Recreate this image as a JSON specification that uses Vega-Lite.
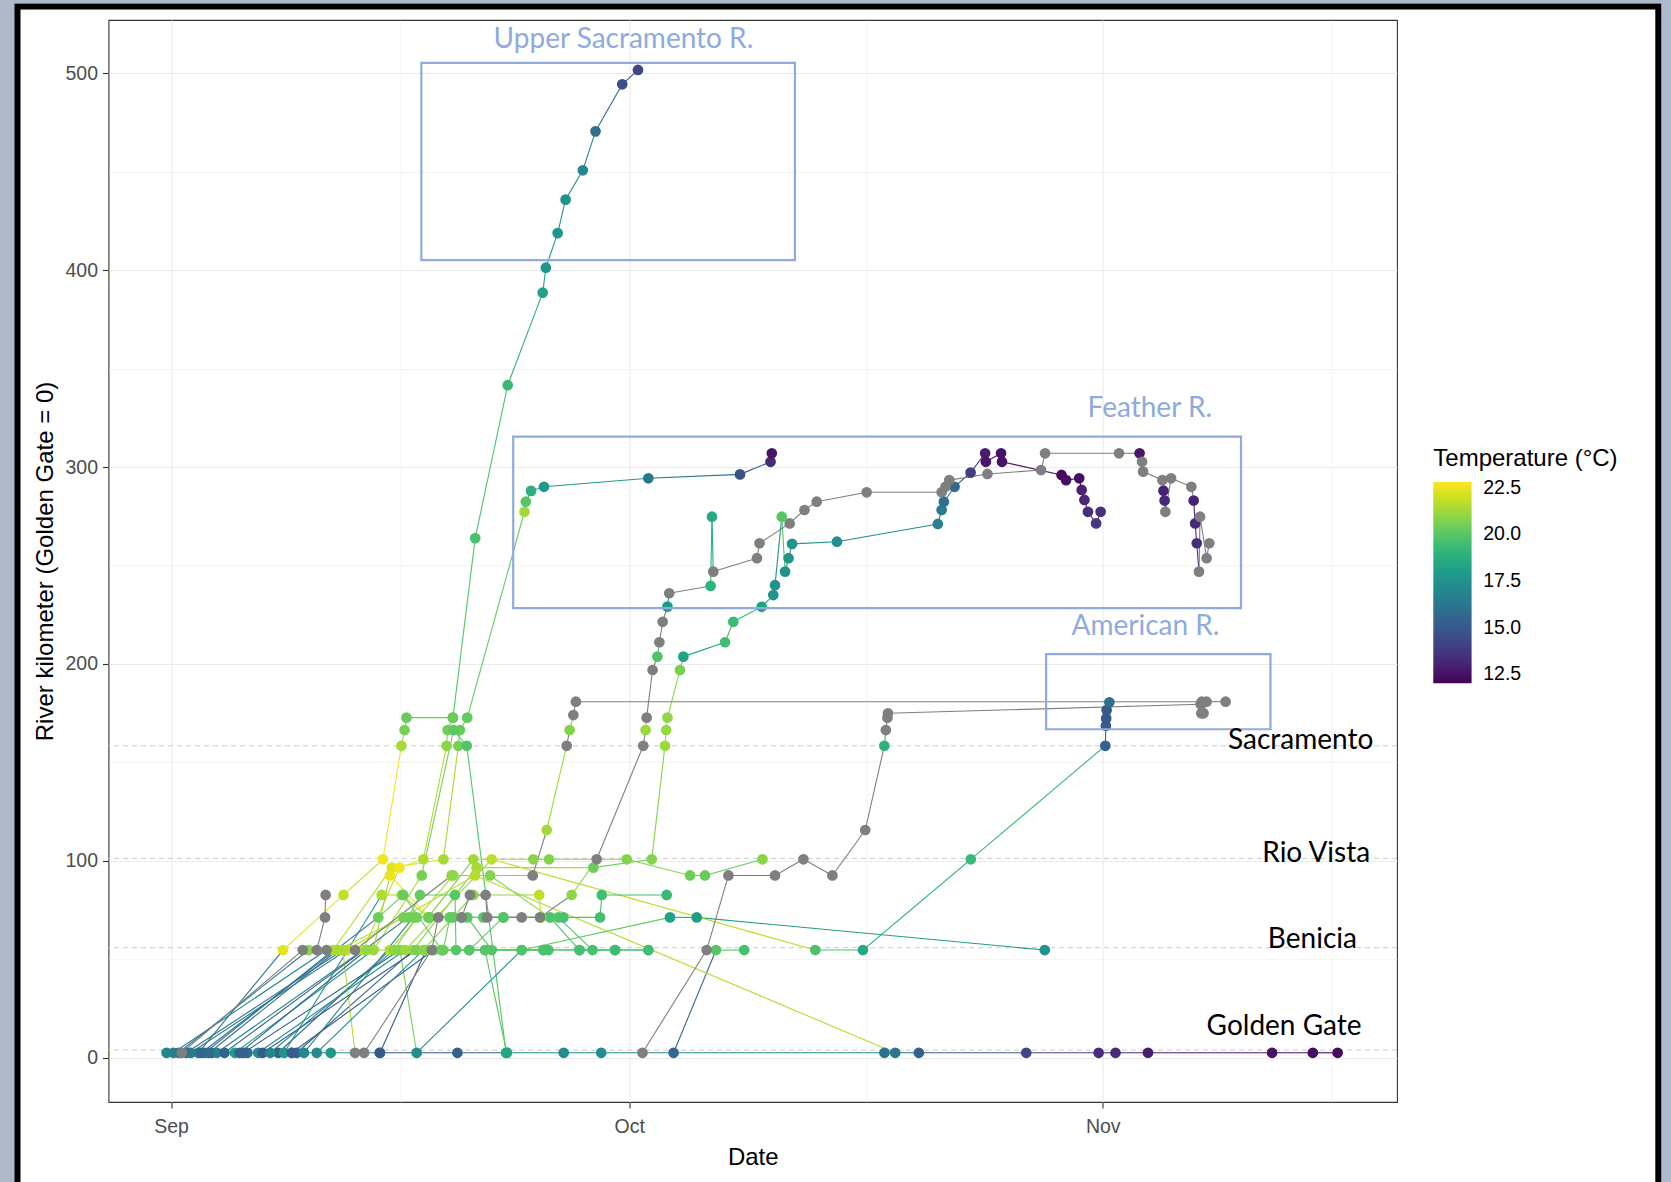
{
  "$schema": "https://vega.github.io/schema/vega-lite/v6.json",
  "autosize": {"type": "none"},
  "width": 1288.5,
  "height": 1082,
  "padding": {"left": 108.5, "top": 20, "right": 274, "bottom": 80},
  "background": "#ffffff",
  "config": {
    "view": {"stroke": "#333333", "strokeWidth": 1.1},
    "legend": {"padding": 0}
  },
  "resolve": {"legend": {"color": "independent"}},
  "data": {
    "format": {"parse": {"t": "date"}},
    "values": [
      {"fish":"f01","t":"2019-08-31T17:00","rkm":2.4,"temp":17.0},
      {"fish":"f01","t":"2019-09-03T16:00","rkm":2.4,"temp":16.0},
      {"fish":"f01","t":"2019-09-06T00:00","rkm":2.4,"temp":15.8},
      {"fish":"f01","t":"2019-09-08T22:00","rkm":2.4,"temp":15.2},
      {"fish":"f01","t":"2019-09-11T11:00","rkm":2.4,"temp":17.8},
      {"fish":"f01","t":"2019-09-14T16:00","rkm":2.4,"temp":15.0},
      {"fish":"f01","t":"2019-09-19T18:00","rkm":2.4,"temp":15.4},
      {"fish":"f01","t":"2019-09-22T23:30","rkm":2.4,"temp":17.3},
      {"fish":"f01","t":"2019-09-26T17:00","rkm":2.4,"temp":17.2},
      {"fish":"f01","t":"2019-09-29T04:00","rkm":2.4,"temp":17.3},
      {"fish":"f01","t":"2019-10-17T17:00","rkm":2.4,"temp":16.0},
      {"fish":"f01","t":"2019-10-19T23:00","rkm":2.4,"temp":15.3},
      {"fish":"f01","t":"2019-10-26T23:45","rkm":2.4,"temp":14.2},
      {"fish":"f01","t":"2019-10-31T17:30","rkm":2.4,"temp":13.4},
      {"fish":"f01","t":"2019-11-01T20:00","rkm":2.4,"temp":13.3},
      {"fish":"f01","t":"2019-11-03T23:00","rkm":2.4,"temp":12.9},
      {"fish":"f01","t":"2019-11-12T02:00","rkm":2.4,"temp":12.5},
      {"fish":"f01","t":"2019-11-14T18:00","rkm":2.4,"temp":12.4},
      {"fish":"f01","t":"2019-11-16T09:00","rkm":2.4,"temp":12.3},

      {"fish":"f02","t":"2019-09-01T17:00","rkm":2.4,"temp":null},
      {"fish":"f02","t":"2019-09-09T15:00","rkm":54.6,"temp":null},
      {"fish":"f02","t":"2019-09-10T13:00","rkm":54.6,"temp":null},
      {"fish":"f02","t":"2019-09-11T02:00","rkm":71.2,"temp":null},
      {"fish":"f02","t":"2019-09-11T03:00","rkm":82.6,"temp":null},

      {"fish":"f03","t":"2019-09-02T19:00","rkm":2.4,"temp":16.3},
      {"fish":"f03","t":"2019-09-08T08:00","rkm":54.6,"temp":22.4},
      {"fish":"f03","t":"2019-09-12T07:00","rkm":82.6,"temp":21.8},
      {"fish":"f03","t":"2019-09-14T21:00","rkm":100.7,"temp":22.6},
      {"fish":"f03","t":"2019-09-16T02:00","rkm":158.4,"temp":21.4},
      {"fish":"f03","t":"2019-09-16T07:00","rkm":166.4,"temp":20.6},
      {"fish":"f03","t":"2019-09-16T10:00","rkm":172.7,"temp":20.3},
      {"fish":"f03","t":"2019-09-19T11:00","rkm":172.7,"temp":19.9},
      {"fish":"f03","t":"2019-09-20T22:00","rkm":263.9,"temp":19.7},
      {"fish":"f03","t":"2019-09-23T01:00","rkm":341.6,"temp":19.3},
      {"fish":"f03","t":"2019-09-25T08:00","rkm":388.6,"temp":18.2},
      {"fish":"f03","t":"2019-09-25T13:00","rkm":401.3,"temp":17.7},
      {"fish":"f03","t":"2019-09-26T07:30","rkm":418.9,"temp":17.6},
      {"fish":"f03","t":"2019-09-26T20:00","rkm":435.9,"temp":17.5},
      {"fish":"f03","t":"2019-09-27T23:00","rkm":450.8,"temp":17.0},
      {"fish":"f03","t":"2019-09-28T19:00","rkm":470.6,"temp":15.9},
      {"fish":"f03","t":"2019-09-30T13:00","rkm":494.5,"temp":14.6},
      {"fish":"f03","t":"2019-10-01T13:40","rkm":501.8,"temp":14.3},

      {"fish":"f04","t":"2019-09-03T05:30","rkm":2.4,"temp":16.6},
      {"fish":"f04","t":"2019-09-11T15:00","rkm":54.6,"temp":21.6},
      {"fish":"f04","t":"2019-09-15T11:00","rkm":96.5,"temp":22.3},
      {"fish":"f04","t":"2019-09-18T20:00","rkm":100.7,"temp":21.4},
      {"fish":"f04","t":"2019-09-19T19:30","rkm":158.4,"temp":20.6},
      {"fish":"f04","t":"2019-09-19T22:00","rkm":166.4,"temp":20.3},
      {"fish":"f04","t":"2019-09-20T09:30","rkm":172.7,"temp":20.2},
      {"fish":"f04","t":"2019-09-24T03:20","rkm":277.3,"temp":21.3},
      {"fish":"f04","t":"2019-09-24T05:30","rkm":282.4,"temp":20.0},
      {"fish":"f04","t":"2019-09-24T13:40","rkm":287.9,"temp":18.8},
      {"fish":"f04","t":"2019-09-25T10:00","rkm":290.0,"temp":17.8},
      {"fish":"f04","t":"2019-10-02T06:00","rkm":294.3,"temp":16.3},
      {"fish":"f04","t":"2019-10-08T06:00","rkm":296.3,"temp":14.8},
      {"fish":"f04","t":"2019-10-10T06:00","rkm":302.7,"temp":13.3},
      {"fish":"f04","t":"2019-10-10T08:00","rkm":307.0,"temp":12.6},

      {"fish":"f05","t":"2019-09-04T00:00","rkm":2.4,"temp":16.8},
      {"fish":"f05","t":"2019-09-13T14:00","rkm":54.6,"temp":21.8},
      {"fish":"f05","t":"2019-09-15T23:00","rkm":96.5,"temp":22.6},
      {"fish":"f05","t":"2019-09-17T12:30","rkm":100.7,"temp":21.5},
      {"fish":"f05","t":"2019-09-19T01:00","rkm":158.4,"temp":20.9},
      {"fish":"f05","t":"2019-09-19T02:30","rkm":166.4,"temp":20.5},
      {"fish":"f05","t":"2019-09-19T11:00","rkm":172.7,"temp":20.4},

      {"fish":"f06","t":"2019-09-05T04:30","rkm":2.4,"temp":17.9},
      {"fish":"f06","t":"2019-09-14T06:00","rkm":54.6,"temp":21.3},
      {"fish":"f06","t":"2019-09-17T10:00","rkm":92.5,"temp":20.6},
      {"fish":"f06","t":"2019-09-19T12:00","rkm":166.4,"temp":20.1},
      {"fish":"f06","t":"2019-09-20T08:40","rkm":158.4,"temp":19.9},
      {"fish":"f06","t":"2019-09-22T22:30","rkm":2.4,"temp":18.6},

      {"fish":"f07","t":"2019-09-08T00:30","rkm":2.4,"temp":15.3},
      {"fish":"f07","t":"2019-09-15T08:00","rkm":54.6,"temp":21.6},
      {"fish":"f07","t":"2019-09-19T11:30","rkm":92.5,"temp":21.0},
      {"fish":"f07","t":"2019-09-24T16:20","rkm":92.5,"temp":null},
      {"fish":"f07","t":"2019-09-25T14:20","rkm":115.6,"temp":21.3},
      {"fish":"f07","t":"2019-09-26T21:40","rkm":158.4,"temp":null},
      {"fish":"f07","t":"2019-09-27T02:20","rkm":166.4,"temp":20.8},
      {"fish":"f07","t":"2019-09-27T08:10","rkm":174.0,"temp":null},
      {"fish":"f07","t":"2019-09-27T12:10","rkm":180.8,"temp":null},
      {"fish":"f07","t":"2019-11-07T11:30","rkm":180.8,"temp":null},
      {"fish":"f07","t":"2019-11-07T14:20","rkm":174.9,"temp":null},
      {"fish":"f07","t":"2019-11-07T19:10","rkm":180.8,"temp":null},
      {"fish":"f07","t":"2019-11-09T01:00","rkm":180.8,"temp":null},

      {"fish":"f08","t":"2019-09-13T15:20","rkm":2.4,"temp":null},
      {"fish":"f08","t":"2019-09-18T01:40","rkm":54.6,"temp":null},
      {"fish":"f08","t":"2019-09-18T12:00","rkm":71.2,"temp":null},
      {"fish":"f08","t":"2019-09-20T00:40","rkm":71.2,"temp":null},
      {"fish":"f08","t":"2019-09-20T13:40","rkm":82.6,"temp":null},
      {"fish":"f08","t":"2019-09-21T14:20","rkm":82.6,"temp":null},
      {"fish":"f08","t":"2019-09-21T16:50","rkm":71.2,"temp":null},
      {"fish":"f08","t":"2019-09-23T23:00","rkm":71.2,"temp":null},
      {"fish":"f08","t":"2019-09-25T03:50","rkm":71.2,"temp":null},
      {"fish":"f08","t":"2019-09-27T05:30","rkm":82.6,"temp":21.0},
      {"fish":"f08","t":"2019-09-28T20:50","rkm":100.7,"temp":null},
      {"fish":"f08","t":"2019-10-01T22:00","rkm":158.4,"temp":null},
      {"fish":"f08","t":"2019-10-02T01:40","rkm":166.4,"temp":21.2},
      {"fish":"f08","t":"2019-10-02T03:20","rkm":172.7,"temp":null},
      {"fish":"f08","t":"2019-10-02T12:40","rkm":196.9,"temp":null},
      {"fish":"f08","t":"2019-10-02T20:10","rkm":203.7,"temp":19.8},
      {"fish":"f08","t":"2019-10-02T23:20","rkm":211.0,"temp":null},
      {"fish":"f08","t":"2019-10-03T04:30","rkm":221.4,"temp":null},
      {"fish":"f08","t":"2019-10-03T12:00","rkm":229.1,"temp":17.8},
      {"fish":"f08","t":"2019-10-03T14:50","rkm":235.9,"temp":null},
      {"fish":"f08","t":"2019-10-06T07:50","rkm":239.6,"temp":19.0},
      {"fish":"f08","t":"2019-10-06T10:00","rkm":274.8,"temp":18.6},
      {"fish":"f08","t":"2019-10-06T12:00","rkm":246.9,"temp":null},
      {"fish":"f08","t":"2019-10-09T08:40","rkm":253.7,"temp":null},
      {"fish":"f08","t":"2019-10-09T12:40","rkm":261.3,"temp":null},
      {"fish":"f08","t":"2019-10-11T12:00","rkm":271.4,"temp":null},
      {"fish":"f08","t":"2019-10-12T11:20","rkm":278.2,"temp":null},
      {"fish":"f08","t":"2019-10-13T06:30","rkm":282.4,"temp":null},
      {"fish":"f08","t":"2019-10-16T13:00","rkm":287.2,"temp":null},
      {"fish":"f08","t":"2019-10-21T10:50","rkm":287.2,"temp":null},
      {"fish":"f08","t":"2019-10-21T16:50","rkm":290.0,"temp":null},
      {"fish":"f08","t":"2019-10-21T22:50","rkm":293.4,"temp":null},
      {"fish":"f08","t":"2019-10-24T10:50","rkm":296.5,"temp":null},
      {"fish":"f08","t":"2019-10-27T23:00","rkm":298.5,"temp":null},
      {"fish":"f08","t":"2019-10-28T05:20","rkm":307.0,"temp":null},
      {"fish":"f08","t":"2019-11-02T01:30","rkm":307.0,"temp":null},
      {"fish":"f08","t":"2019-11-03T09:50","rkm":307.0,"temp":12.6},
      {"fish":"f08","t":"2019-11-03T13:40","rkm":302.7,"temp":null},
      {"fish":"f08","t":"2019-11-03T15:20","rkm":297.7,"temp":null},
      {"fish":"f08","t":"2019-11-04T21:40","rkm":293.4,"temp":null},
      {"fish":"f08","t":"2019-11-04T23:20","rkm":288.0,"temp":13.0},
      {"fish":"f08","t":"2019-11-05T01:10","rkm":283.0,"temp":13.2},
      {"fish":"f08","t":"2019-11-05T02:20","rkm":277.3,"temp":null},
      {"fish":"f08","t":"2019-11-05T11:20","rkm":294.3,"temp":null},
      {"fish":"f08","t":"2019-11-06T19:10","rkm":290.0,"temp":null},
      {"fish":"f08","t":"2019-11-06T22:50","rkm":283.0,"temp":13.0},
      {"fish":"f08","t":"2019-11-07T01:10","rkm":271.4,"temp":13.3},
      {"fish":"f08","t":"2019-11-07T03:40","rkm":261.3,"temp":13.4},
      {"fish":"f08","t":"2019-11-07T07:10","rkm":246.9,"temp":null},
      {"fish":"f08","t":"2019-11-07T08:50","rkm":274.8,"temp":null},
      {"fish":"f08","t":"2019-11-07T19:10","rkm":253.7,"temp":null},
      {"fish":"f08","t":"2019-11-07T23:20","rkm":261.3,"temp":null},

      {"fish":"f09","t":"2019-10-01T20:50","rkm":2.4,"temp":null},
      {"fish":"f09","t":"2019-10-06T01:40","rkm":54.6,"temp":null},
      {"fish":"f09","t":"2019-10-07T11:50","rkm":92.5,"temp":null},
      {"fish":"f09","t":"2019-10-10T13:00","rkm":92.5,"temp":null},
      {"fish":"f09","t":"2019-10-12T09:40","rkm":100.7,"temp":null},
      {"fish":"f09","t":"2019-10-14T07:10","rkm":92.5,"temp":null},
      {"fish":"f09","t":"2019-10-16T10:50","rkm":115.6,"temp":null},
      {"fish":"f09","t":"2019-10-17T16:50","rkm":158.4,"temp":19.0},
      {"fish":"f09","t":"2019-10-17T19:10","rkm":166.4,"temp":null},
      {"fish":"f09","t":"2019-10-17T21:40","rkm":172.7,"temp":null},
      {"fish":"f09","t":"2019-10-17T22:30","rkm":174.9,"temp":null},
      {"fish":"f09","t":"2019-11-07T09:40","rkm":179.5,"temp":null},
      {"fish":"f09","t":"2019-11-07T10:50","rkm":174.9,"temp":null},

      {"fish":"f10","t":"2019-09-09T05:30","rkm":2.4,"temp":15.4},
      {"fish":"f10","t":"2019-09-16T20:40","rkm":54.6,"temp":21.0},
      {"fish":"f10","t":"2019-09-21T00:10","rkm":96.5,"temp":21.4},
      {"fish":"f10","t":"2019-09-28T15:40","rkm":96.5,"temp":20.4},
      {"fish":"f10","t":"2019-10-02T11:20","rkm":100.7,"temp":20.8},
      {"fish":"f10","t":"2019-10-03T08:10","rkm":158.4,"temp":21.2},
      {"fish":"f10","t":"2019-10-03T10:00","rkm":166.4,"temp":21.1},
      {"fish":"f10","t":"2019-10-03T12:00","rkm":172.7,"temp":21.0},
      {"fish":"f10","t":"2019-10-04T07:40","rkm":196.9,"temp":20.6},
      {"fish":"f10","t":"2019-10-04T13:00","rkm":203.7,"temp":18.3},
      {"fish":"f10","t":"2019-10-07T06:30","rkm":211.0,"temp":19.5},
      {"fish":"f10","t":"2019-10-07T19:30","rkm":221.4,"temp":19.4},
      {"fish":"f10","t":"2019-10-09T16:00","rkm":229.0,"temp":18.3},
      {"fish":"f10","t":"2019-10-10T10:20","rkm":235.0,"temp":17.6},
      {"fish":"f10","t":"2019-10-10T13:00","rkm":240.0,"temp":17.5},
      {"fish":"f10","t":"2019-10-10T23:40","rkm":274.8,"temp":20.0},
      {"fish":"f10","t":"2019-10-11T04:50","rkm":246.9,"temp":17.5},
      {"fish":"f10","t":"2019-10-11T10:20","rkm":253.7,"temp":17.6},
      {"fish":"f10","t":"2019-10-11T15:50","rkm":261.0,"temp":17.5},
      {"fish":"f10","t":"2019-10-14T14:20","rkm":262.1,"temp":17.3},
      {"fish":"f10","t":"2019-10-21T04:50","rkm":271.1,"temp":16.8},
      {"fish":"f10","t":"2019-10-21T10:50","rkm":278.2,"temp":16.4},
      {"fish":"f10","t":"2019-10-21T14:20","rkm":282.4,"temp":16.0},
      {"fish":"f10","t":"2019-10-22T07:10","rkm":290.0,"temp":15.6},
      {"fish":"f10","t":"2019-10-23T08:20","rkm":297.2,"temp":14.0},
      {"fish":"f10","t":"2019-10-24T07:10","rkm":307.0,"temp":12.8},
      {"fish":"f10","t":"2019-10-24T08:20","rkm":302.7,"temp":12.6},
      {"fish":"f10","t":"2019-10-25T08:10","rkm":307.0,"temp":12.5},
      {"fish":"f10","t":"2019-10-25T09:40","rkm":302.7,"temp":12.5},
      {"fish":"f10","t":"2019-10-29T07:10","rkm":296.0,"temp":12.3},
      {"fish":"f10","t":"2019-10-29T14:20","rkm":293.4,"temp":12.4},
      {"fish":"f10","t":"2019-10-30T11:00","rkm":294.3,"temp":12.4},
      {"fish":"f10","t":"2019-10-30T14:50","rkm":288.4,"temp":13.0},
      {"fish":"f10","t":"2019-10-30T19:10","rkm":283.3,"temp":13.2},
      {"fish":"f10","t":"2019-10-31T00:40","rkm":277.3,"temp":13.4},
      {"fish":"f10","t":"2019-10-31T13:30","rkm":271.4,"temp":13.8},
      {"fish":"f10","t":"2019-10-31T20:40","rkm":277.3,"temp":13.5},

      {"fish":"f11","t":"2019-10-03T21:40","rkm":2.4,"temp":15.6},
      {"fish":"f11","t":"2019-10-06T16:20","rkm":54.6,"temp":20.0},
      {"fish":"f11","t":"2019-10-08T12:40","rkm":54.6,"temp":19.6},

      {"fish":"f12","t":"2019-09-05T17:50","rkm":2.4,"temp":15.5},
      {"fish":"f12","t":"2019-09-15T23:50","rkm":54.6,"temp":20.6},
      {"fish":"f12","t":"2019-09-17T02:00","rkm":2.4,"temp":17.3},
      {"fish":"f12","t":"2019-09-23T23:00","rkm":54.6,"temp":20.2},
      {"fish":"f12","t":"2019-10-03T16:00","rkm":71.2,"temp":18.2},
      {"fish":"f12","t":"2019-10-05T10:00","rkm":71.2,"temp":18.0},
      {"fish":"f12","t":"2019-10-28T04:50","rkm":54.6,"temp":17.6},

      {"fish":"f13","t":"2019-09-06T17:00","rkm":2.4,"temp":17.2},
      {"fish":"f13","t":"2019-09-16T07:40","rkm":54.6,"temp":21.2},
      {"fish":"f13","t":"2019-09-21T23:50","rkm":100.7,"temp":21.7},
      {"fish":"f13","t":"2019-10-13T04:20","rkm":54.6,"temp":19.8},
      {"fish":"f13","t":"2019-10-16T07:10","rkm":54.6,"temp":18.5},
      {"fish":"f13","t":"2019-10-23T08:40","rkm":100.7,"temp":19.3},
      {"fish":"f13","t":"2019-11-01T04:00","rkm":158.4,"temp":15.3},
      {"fish":"f13","t":"2019-11-01T04:50","rkm":168.6,"temp":15.2},
      {"fish":"f13","t":"2019-11-01T05:20","rkm":172.3,"temp":15.0},
      {"fish":"f13","t":"2019-11-01T06:00","rkm":176.5,"temp":15.0},
      {"fish":"f13","t":"2019-11-01T10:20","rkm":180.5,"temp":16.0},

      {"fish":"f14","t":"2019-09-08T09:40","rkm":2.4,"temp":17.6},
      {"fish":"f14","t":"2019-09-14T19:00","rkm":82.6,"temp":21.5},
      {"fish":"f14","t":"2019-09-16T02:20","rkm":82.6,"temp":21.3},
      {"fish":"f14","t":"2019-09-17T20:10","rkm":71.2,"temp":20.6},
      {"fish":"f14","t":"2019-09-20T19:00","rkm":100.7,"temp":21.3},
      {"fish":"f14","t":"2019-09-24T17:20","rkm":100.7,"temp":20.9},
      {"fish":"f14","t":"2019-09-25T18:00","rkm":100.7,"temp":20.8},
      {"fish":"f14","t":"2019-09-30T20:00","rkm":100.7,"temp":20.8},
      {"fish":"f14","t":"2019-10-04T23:30","rkm":92.5,"temp":20.4},
      {"fish":"f14","t":"2019-10-05T23:00","rkm":92.5,"temp":20.3},
      {"fish":"f14","t":"2019-10-09T17:20","rkm":100.7,"temp":20.9},

      {"fish":"f15","t":"2019-09-02T07:10","rkm":2.4,"temp":16.5},
      {"fish":"f15","t":"2019-09-12T12:00","rkm":54.6,"temp":21.7},
      {"fish":"f15","t":"2019-09-20T21:40","rkm":92.5,"temp":21.6},
      {"fish":"f15","t":"2019-10-18T09:50","rkm":2.4,"temp":16.3},

      {"fish":"f16","t":"2019-09-01T03:40","rkm":2.4,"temp":16.8},
      {"fish":"f16","t":"2019-09-11T04:30","rkm":54.6,"temp":null},
      {"fish":"f16","t":"2019-09-13T01:10","rkm":54.6,"temp":null},
      {"fish":"f16","t":"2019-09-19T08:50","rkm":92.5,"temp":21.0},
      {"fish":"f16","t":"2019-09-21T21:10","rkm":92.5,"temp":20.8},
      {"fish":"f16","t":"2019-09-25T19:30","rkm":71.2,"temp":19.8},
      {"fish":"f16","t":"2019-09-27T17:50","rkm":54.6,"temp":19.7},
      {"fish":"f16","t":"2019-09-30T01:40","rkm":54.6,"temp":19.5},

      {"fish":"f17","t":"2019-09-02T00:00","rkm":2.4,"temp":16.2},
      {"fish":"f17","t":"2019-09-12T05:50","rkm":54.6,"temp":21.5},
      {"fish":"f17","t":"2019-09-13T01:10","rkm":2.4,"temp":null},

      {"fish":"f18","t":"2019-09-03T00:00","rkm":2.4,"temp":15.6},
      {"fish":"f18","t":"2019-09-14T13:40","rkm":71.2,"temp":20.4},
      {"fish":"f18","t":"2019-09-16T05:00","rkm":82.6,"temp":20.3},
      {"fish":"f18","t":"2019-09-18T17:20","rkm":54.6,"temp":20.3},
      {"fish":"f18","t":"2019-09-20T12:40","rkm":54.6,"temp":20.1},
      {"fish":"f18","t":"2019-09-22T18:10","rkm":71.2,"temp":19.9},
      {"fish":"f18","t":"2019-09-26T08:40","rkm":71.2,"temp":19.8},
      {"fish":"f18","t":"2019-09-28T14:20","rkm":54.6,"temp":19.6},

      {"fish":"f19","t":"2019-09-04T12:00","rkm":2.4,"temp":15.4},
      {"fish":"f19","t":"2019-09-16T13:00","rkm":71.2,"temp":20.5},
      {"fish":"f19","t":"2019-09-17T07:10","rkm":82.6,"temp":20.2},
      {"fish":"f19","t":"2019-09-19T14:10","rkm":82.6,"temp":20.0},
      {"fish":"f19","t":"2019-09-19T15:50","rkm":54.6,"temp":20.0},
      {"fish":"f19","t":"2019-09-21T13:30","rkm":54.6,"temp":19.9},
      {"fish":"f19","t":"2019-09-25T09:10","rkm":54.6,"temp":19.6},

      {"fish":"f20","t":"2019-09-07T00:00","rkm":2.4,"temp":15.0},
      {"fish":"f20","t":"2019-09-17T02:00","rkm":54.6,"temp":20.6},
      {"fish":"f20","t":"2019-09-18T19:50","rkm":54.6,"temp":20.3},
      {"fish":"f20","t":"2019-09-19T06:10","rkm":71.2,"temp":20.2},
      {"fish":"f20","t":"2019-09-21T10:50","rkm":71.2,"temp":20.0},
      {"fish":"f20","t":"2019-09-26T16:30","rkm":71.2,"temp":19.7},
      {"fish":"f20","t":"2019-09-29T02:10","rkm":71.2,"temp":19.6},
      {"fish":"f20","t":"2019-09-29T04:50","rkm":82.6,"temp":19.5},
      {"fish":"f20","t":"2019-10-03T10:50","rkm":82.6,"temp":19.3},

      {"fish":"f21","t":"2019-09-09T17:00","rkm":2.4,"temp":17.0},
      {"fish":"f21","t":"2019-09-16T20:40","rkm":71.2,"temp":20.5},
      {"fish":"f21","t":"2019-09-17T21:50","rkm":71.2,"temp":20.3},
      {"fish":"f21","t":"2019-09-19T11:30","rkm":71.2,"temp":20.1},
      {"fish":"f21","t":"2019-09-20T09:40","rkm":71.2,"temp":20.0},
      {"fish":"f21","t":"2019-09-22T00:00","rkm":54.6,"temp":19.9},
      {"fish":"f21","t":"2019-09-25T17:00","rkm":54.6,"temp":19.7},
      {"fish":"f21","t":"2019-10-02T06:00","rkm":54.6,"temp":19.5},

      {"fish":"f22","t":"2019-09-14T16:20","rkm":2.4,"temp":15.0},
      {"fish":"f22","t":"2019-09-17T16:50","rkm":54.6,"temp":20.8},
      {"fish":"f22","t":"2019-09-21T13:30","rkm":54.6,"temp":20.0},
      {"fish":"f22","t":"2019-09-22T23:30","rkm":2.4,"temp":18.5},

      {"fish":"f23","t":"2019-09-01T12:00","rkm":2.4,"temp":16.4},
      {"fish":"f23","t":"2019-09-10T00:00","rkm":54.6,"temp":21.0},
      {"fish":"f23","t":"2019-09-14T05:50","rkm":54.6,"temp":21.2},
      {"fish":"f23","t":"2019-09-15T08:00","rkm":92.5,"temp":22.5},
      {"fish":"f23","t":"2019-09-17T21:50","rkm":71.2,"temp":20.4},
      {"fish":"f23","t":"2019-09-22T18:10","rkm":71.2,"temp":19.9},

      {"fish":"f24","t":"2019-09-03T12:00","rkm":2.4,"temp":15.8},
      {"fish":"f24","t":"2019-09-11T21:40","rkm":54.6,"temp":21.4},
      {"fish":"f24","t":"2019-09-16T05:00","rkm":71.2,"temp":20.5},
      {"fish":"f24","t":"2019-09-19T06:10","rkm":71.2,"temp":20.2},

      {"fish":"f25","t":"2019-09-05T12:00","rkm":2.4,"temp":15.3},
      {"fish":"f25","t":"2019-09-13T19:10","rkm":54.6,"temp":21.0},
      {"fish":"f25","t":"2019-09-18T17:20","rkm":54.6,"temp":20.3},
      {"fish":"f25","t":"2019-09-25T09:10","rkm":54.6,"temp":19.7},

      {"fish":"f26","t":"2019-09-07T12:00","rkm":2.4,"temp":17.0},
      {"fish":"f26","t":"2019-09-15T14:20","rkm":54.6,"temp":20.9},
      {"fish":"f26","t":"2019-09-17T02:00","rkm":71.2,"temp":20.5},
      {"fish":"f26","t":"2019-09-20T00:40","rkm":71.2,"temp":20.1},

      {"fish":"f27","t":"2019-09-08T21:40","rkm":2.4,"temp":15.2},
      {"fish":"f27","t":"2019-09-18T04:50","rkm":54.6,"temp":20.5},
      {"fish":"f27","t":"2019-09-20T12:40","rkm":54.6,"temp":20.0},
      {"fish":"f27","t":"2019-09-23T23:00","rkm":54.6,"temp":19.8},
      {"fish":"f27","t":"2019-09-27T17:50","rkm":54.6,"temp":19.6},
      {"fish":"f27","t":"2019-09-30T01:40","rkm":54.6,"temp":19.4},
      {"fish":"f27","t":"2019-10-02T06:00","rkm":54.6,"temp":19.5},

      {"fish":"f28","t":"2019-09-10T13:00","rkm":2.4,"temp":17.2},
      {"fish":"f28","t":"2019-09-17T12:30","rkm":54.6,"temp":20.9},
      {"fish":"f28","t":"2019-09-20T19:00","rkm":82.6,"temp":20.9},
      {"fish":"f28","t":"2019-09-25T02:30","rkm":82.6,"temp":21.8},
      {"fish":"f28","t":"2019-09-25T05:00","rkm":71.2,"temp":21.5}
    ]
  },
  "layer": [
    {
      "data": {"values": [{"t": "2019-08-20T19:20", "t2": "2019-12-08T13:10", "rkm": 543.3, "rkm2": -110}]},
      "mark": {"type": "rect", "filled": false, "color": "#AEB9CB", "strokeWidth": 30},
      "encoding": {
        "x": {"field": "t", "type": "temporal"},
        "x2": {"field": "t2"},
        "y": {"field": "rkm", "type": "quantitative"},
        "y2": {"field": "rkm2"}
      }
    },
    {
      "data": {"values": [{"t": "2019-08-21T22:50", "t2": "2019-12-07T08:50", "rkm": 534.1, "rkm2": -90}]},
      "mark": {"type": "rect", "filled": false, "color": "#000000", "strokeWidth": 6},
      "encoding": {
        "x": {"field": "t", "type": "temporal"},
        "x2": {"field": "t2"},
        "y": {"field": "rkm", "type": "quantitative"},
        "y2": {"field": "rkm2"}
      }
    },
    {
      "data": {"values": [
        {"site": "Golden Gate", "rkm": 3.8},
        {"site": "Benicia", "rkm": 55.8},
        {"site": "Rio Vista", "rkm": 101.2},
        {"site": "Sacramento", "rkm": 158.4}
      ]},
      "mark": {"type": "rule", "color": "#CCCCCC", "strokeWidth": 1, "strokeDash": [5, 4]},
      "encoding": {
        "y": {"field": "rkm", "type": "quantitative"}
      }
    },
    {
      "transform": [
        {"window": [{"op": "lead", "field": "t", "as": "t2"}, {"op": "lead", "field": "rkm", "as": "rkm2"}], "groupby": ["fish"], "sort": [{"field": "t", "order": "ascending"}], "frame": [null, null]},
        {"filter": "datum.t2 != null && datum.temp != null"}
      ],
      "mark": {"type": "rule", "strokeWidth": 1.1},
      "encoding": {
        "x": {"field": "t", "type": "temporal"},
        "x2": {"field": "t2"},
        "y": {"field": "rkm", "type": "quantitative"},
        "y2": {"field": "rkm2"},
        "color": {"field": "temp", "type": "quantitative", "legend": null}
      }
    },
    {
      "transform": [
        {"window": [{"op": "lead", "field": "t", "as": "t2"}, {"op": "lead", "field": "rkm", "as": "rkm2"}], "groupby": ["fish"], "sort": [{"field": "t", "order": "ascending"}], "frame": [null, null]},
        {"filter": "datum.t2 != null && datum.temp == null"}
      ],
      "mark": {"type": "rule", "strokeWidth": 1.1, "color": "#7F7F7F"},
      "encoding": {
        "x": {"field": "t", "type": "temporal"},
        "x2": {"field": "t2"},
        "y": {"field": "rkm", "type": "quantitative"},
        "y2": {"field": "rkm2"}
      }
    },
    {
      "transform": [{"filter": "datum.temp != null"}],
      "mark": {"type": "circle", "size": 115, "opacity": 1},
      "encoding": {
        "x": {
          "field": "t", "type": "temporal",
          "scale": {"domain": [{"year": 2019, "month": 8, "date": 27, "hours": 21, "minutes": 48}, {"year": 2019, "month": 11, "date": 20, "hours": 6, "minutes": 17}], "nice": false},
          "axis": {
            "title": "Date",
            "values": [
              {"year": 2019, "month": 9, "date": 1},
              {"year": 2019, "month": 9, "date": 16},
              {"year": 2019, "month": 10, "date": 1},
              {"year": 2019, "month": 10, "date": 16, "hours": 12},
              {"year": 2019, "month": 11, "date": 1},
              {"year": 2019, "month": 11, "date": 16}
            ],
            "format": "%b",
            "labelExpr": "date(datum.value) == 1 ? datum.label : ''",
            "domain": false,
            "grid": true,
            "gridColor": "#EBEBEB",
            "gridWidth": {"condition": {"test": "date(datum.value) == 1", "value": 1.1}, "value": 0.55},
            "tickColor": "#333333",
            "tickSize": 6,
            "tickWidth": 1.1,
            "tickOpacity": {"condition": {"test": "date(datum.value) == 1", "value": 1}, "value": 0},
            "labelFont": "Liberation Sans",
            "labelFontSize": 19.5,
            "labelColor": "#4D4D4D",
            "labelPadding": 9,
            "labelFlush": false,
            "labelOverlap": false,
            "titleFont": "Liberation Sans",
            "titleFontSize": 24,
            "titleFontWeight": "normal",
            "titleColor": "#000000",
            "titlePadding": 10
          }
        },
        "y": {
          "field": "rkm", "type": "quantitative",
          "scale": {"domain": [-22.61, 527.18], "nice": false, "zero": false},
          "axis": {
            "title": "River kilometer (Golden Gate = 0)",
            "values": [0, 50, 100, 150, 200, 250, 300, 350, 400, 450, 500],
            "labelExpr": "datum.value % 100 == 0 ? datum.label : ''",
            "domain": false,
            "grid": true,
            "gridColor": "#EBEBEB",
            "gridWidth": {"condition": {"test": "datum.value % 100 == 0", "value": 1.1}, "value": 0.55},
            "tickColor": "#333333",
            "tickSize": 6,
            "tickWidth": 1.1,
            "tickOpacity": {"condition": {"test": "datum.value % 100 == 0", "value": 1}, "value": 0},
            "labelFont": "Liberation Sans",
            "labelFontSize": 19.5,
            "labelColor": "#4D4D4D",
            "labelPadding": 5,
            "labelOverlap": false,
            "titleFont": "Liberation Sans",
            "titleFontSize": 24,
            "titleFontWeight": "normal",
            "titleColor": "#000000",
            "titlePadding": 7
          }
        },
        "color": {
          "field": "temp", "type": "quantitative",
          "scale": {"scheme": "viridis", "domain": [12.02, 22.8], "nice": false, "zero": false},
          "legend": {
            "type": "gradient",
            "title": "Temperature (°C)",
            "orient": "none",
            "legendX": 1324.8,
            "legendY": 427,
            "direction": "vertical",
            "gradientLength": 201.3,
            "gradientThickness": 38.3,
            "gradientStrokeWidth": 0,
            "values": [12.5, 15, 17.5, 20, 22.5],
            "format": ".1f",
            "labelFont": "Liberation Sans",
            "labelFontSize": 19.5,
            "labelColor": "#000000",
            "labelOffset": 11.6,
            "labelOverlap": false,
            "labelLimit": 200,
            "titleFont": "Liberation Sans",
            "titleFontSize": 24,
            "titleFontWeight": "normal",
            "titleColor": "#000000",
            "titleLimit": 400,
            "titlePadding": 11
          }
        }
      }
    },
    {
      "transform": [{"filter": "datum.temp == null"}],
      "mark": {"type": "circle", "size": 115, "opacity": 1, "color": "#7F7F7F"},
      "encoding": {
        "x": {"field": "t", "type": "temporal"},
        "y": {"field": "rkm", "type": "quantitative"}
      }
    },
    {
      "data": {"values": [
        {"river": "Upper Sacramento R.", "t": "2019-09-17T09:20", "t2": "2019-10-11T20:20", "rkm": 405.2, "rkm2": 505.4},
        {"river": "Feather R.", "t": "2019-09-23T09:40", "t2": "2019-11-10T01:10", "rkm": 228.3, "rkm2": 315.5},
        {"river": "American R.", "t": "2019-10-28T07:00", "t2": "2019-11-11T23:30", "rkm": 166.8, "rkm2": 205.0}
      ]},
      "mark": {"type": "rect", "filled": false, "color": "#8FAADC", "strokeWidth": 2.2},
      "encoding": {
        "x": {"field": "t", "type": "temporal"},
        "x2": {"field": "t2"},
        "y": {"field": "rkm", "type": "quantitative"},
        "y2": {"field": "rkm2"}
      }
    },
    {
      "data": {"values": [
        {"river": "Upper Sacramento R.", "t": "2019-09-30T14:50", "rkm": 516.8},
        {"river": "Feather R.", "t": "2019-11-04T01:55", "rkm": 329.4},
        {"river": "American R.", "t": "2019-11-03T19:10", "rkm": 218.5}
      ]},
      "mark": {"type": "text", "font": "Lato", "fontSize": 28, "color": "#8FAADC", "align": "center", "baseline": "middle"},
      "encoding": {
        "x": {"field": "t", "type": "temporal"},
        "y": {"field": "rkm", "type": "quantitative"},
        "text": {"field": "river"}
      }
    },
    {
      "data": {"values": [
        {"site": "Sacramento", "t": "2019-11-13T23:00", "rkm": 161.0},
        {"site": "Rio Vista", "t": "2019-11-14T23:20", "rkm": 103.6},
        {"site": "Benicia", "t": "2019-11-14T17:20", "rkm": 59.7},
        {"site": "Golden Gate", "t": "2019-11-12T20:50", "rkm": 15.3}
      ]},
      "mark": {"type": "text", "font": "Lato", "fontSize": 28, "color": "#000000", "align": "center", "baseline": "middle"},
      "encoding": {
        "x": {"field": "t", "type": "temporal"},
        "y": {"field": "rkm", "type": "quantitative"},
        "text": {"field": "site"}
      }
    }
  ]
}
